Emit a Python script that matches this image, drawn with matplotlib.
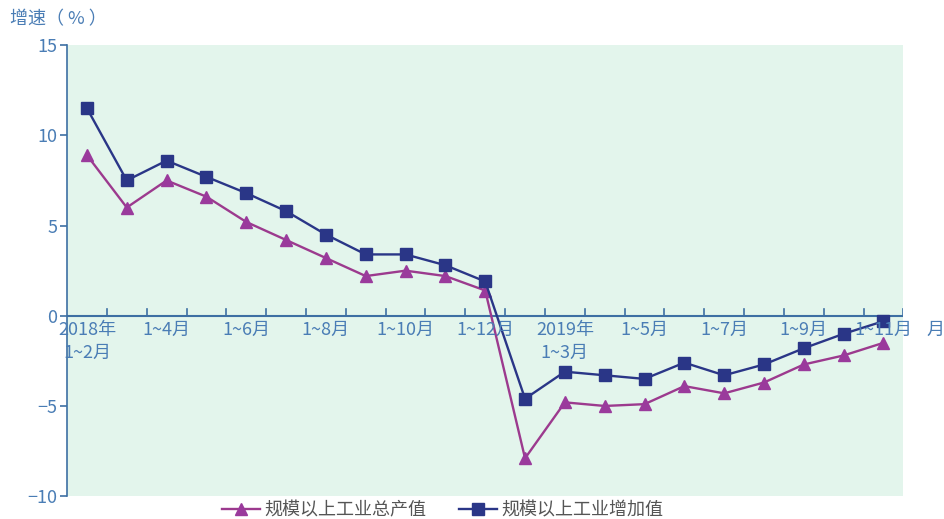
import matplotlib.pyplot as plt
import numpy as np

plt.rcParams['font.family'] = ['Noto Sans CJK SC', 'DejaVu Sans']

# 数据
labels = ['2018年\n1~2月', '', '1~4月', '', '1~6月', '', '1~8月', '', '1~10月', '', '1~12月',
          '', '2019年\n1~3月', '', '1~5月', '', '1~7月', '', '1~9月', '', '1~11月']
total_output = [8.9, 6.0, 7.5, 6.6, 5.2, 4.2, 3.2, 2.2, 2.5, 2.2, 1.4,
                -7.9, -4.8, -5.0, -4.9, -3.9, -4.3, -3.7, -2.7, -2.2, -1.5]
added_value = [11.5, 7.5, 8.6, 7.7, 6.8, 5.8, 4.5, 3.4, 3.4, 2.8, 1.9,
               -4.6, -3.1, -3.3, -3.5, -2.6, -3.3, -2.7, -1.8, -1.0, -0.3]

axis_color = '#3d6fa3'
text_color = '#4a7db5'
purple = '#9c3a8e'
navy = '#2a3687'

fig = plt.figure(figsize=(9.44, 5.19), dpi=100)
ax = fig.add_axes([0.071, 0.044, 0.886, 0.869])
ax.set_facecolor('#e3f5ec')

x = np.arange(len(labels))
l1, = ax.plot(x, total_output, color=purple, lw=1.7, marker='^', ms=9,
              markerfacecolor='#9a3a9c', markeredgecolor='#9a3a9c', label='规模以上工业总产值')
l2, = ax.plot(x, added_value, color=navy, lw=1.7, marker='s', ms=8.5,
              markerfacecolor=navy, markeredgecolor=navy, label='规模以上工业增加值')

ax.set_xlim(-0.5, len(labels) - 0.5)
ax.set_ylim(-10, 15)

# 坐标轴样式
for s in ['top', 'right', 'bottom']:
    ax.spines[s].set_visible(False)
ax.spines['left'].set_color(axis_color)
ax.spines['left'].set_linewidth(1.2)
ax.axhline(0, color=axis_color, lw=1.5, zorder=1)

ax.set_yticks([-10, -5, 0, 5, 10, 15])
ax.set_yticklabels(['−10', '−5', '0', '5', '10', '15'])
ax.tick_params(axis='y', colors=axis_color, labelcolor=text_color, labelsize=13,
               length=5, width=1.2, pad=2)
for t in ax.get_yticklabels():
    t.set_fontweight('light')

# x轴刻度在分界处，标签在零线下方
ax.set_xticks([])
for b in np.arange(0.5, len(labels) - 0.5, 1.0):
    ax.plot([b, b], [0, 0.35], color=axis_color, lw=1.2, zorder=1)
ax.plot([len(labels) - 0.5] * 2, [0, 0.35], color=axis_color, lw=1.2, zorder=1)
for i, lab in enumerate(labels):
    if lab:
        ax.text(i, -0.3, lab, ha='center', va='top', fontsize=13, color=text_color,
                linespacing=1.35, fontweight='light')
ax.text(len(labels) + 0.3, -0.3, '月', ha='center', va='top', fontsize=13,
        color=text_color, clip_on=False, fontweight='light')

fig.text(0.011, 0.962, '增速（ % ）', ha='left', va='center', fontsize=13,
         color=text_color, fontweight='light')

leg = fig.legend(handles=[l1, l2], loc='center', bbox_to_anchor=(0.469, 0.017), ncol=2,
                 frameon=False, fontsize=13, handlelength=2.1, columnspacing=1.8,
                 labelcolor='#555555', handletextpad=0.25)
for t in leg.get_texts():
    t.set_fontweight('light')

fig.savefig('out.png', dpi=100, facecolor='white')
